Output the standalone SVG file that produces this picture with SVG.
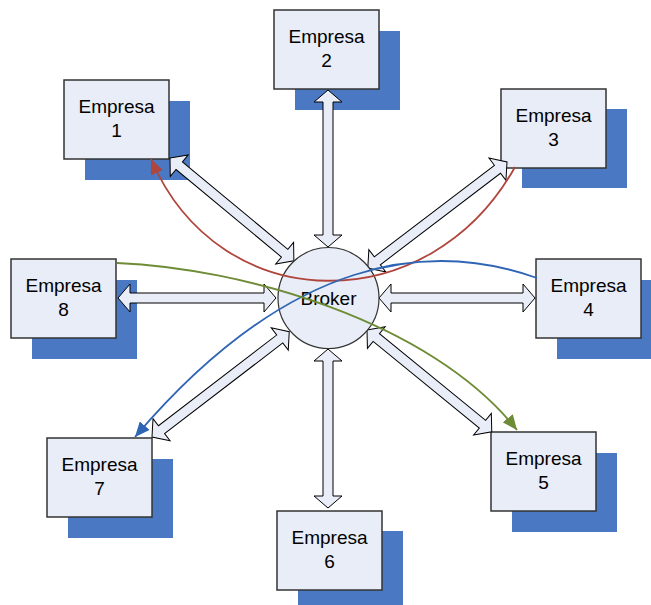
<svg xmlns="http://www.w3.org/2000/svg" width="651" height="605" viewBox="0 0 651 605">
  <defs>
    <style>
      .shadow { fill: #4A78C2; }
      .box { fill: #E8EDF7; stroke: #333333; stroke-width: 1.5; }
      .label { font-family: "Liberation Sans", Arial, sans-serif; font-size: 19px; fill: #000000; text-anchor: middle; }
      .link { fill: #E8EDF7; stroke: #000000; stroke-width: 1; stroke-linejoin: miter; }
      .flow { fill: none; stroke-width: 1.8; }
    </style>
    <!-- double-headed block arrow, unit length handled by per-connector geometry -->
    <marker id="headRed" markerUnits="userSpaceOnUse" markerWidth="16" markerHeight="13" refX="15" refY="6.5" orient="auto">
      <path d="M0,0 L15,6.5 L0,13 z" fill="#B0453C"/>
    </marker>
    <marker id="headBlue" markerUnits="userSpaceOnUse" markerWidth="16" markerHeight="13" refX="15" refY="6.5" orient="auto">
      <path d="M0,0 L15,6.5 L0,13 z" fill="#2F65B5"/>
    </marker>
    <marker id="headGreen" markerUnits="userSpaceOnUse" markerWidth="16" markerHeight="13" refX="15" refY="6.5" orient="auto">
      <path d="M0,0 L15,6.5 L0,13 z" fill="#6E8B35"/>
    </marker>
  </defs>

  <rect width="651" height="605" fill="#FFFFFF"/>

  <g id="empresa1">
    <rect class="shadow" x="85" y="101" width="105" height="79"/>
    <rect class="box" x="64" y="80" width="105" height="79"/>
    <text class="label" x="116.5" y="113">Empresa</text>
    <text class="label" x="116.5" y="137">1</text>
  </g>
  <g id="empresa2">
    <rect class="shadow" x="295" y="31" width="105" height="79"/>
    <rect class="box" x="274" y="10" width="105" height="79"/>
    <text class="label" x="326.5" y="43">Empresa</text>
    <text class="label" x="326.5" y="67">2</text>
  </g>
  <g id="empresa3">
    <rect class="shadow" x="522" y="109" width="105" height="79"/>
    <rect class="box" x="501" y="89" width="105" height="79"/>
    <text class="label" x="553.5" y="122">Empresa</text>
    <text class="label" x="553.5" y="146">3</text>
  </g>
  <g id="empresa4">
    <rect class="shadow" x="557" y="280" width="105" height="79"/>
    <rect class="box" x="536" y="259" width="105" height="79"/>
    <text class="label" x="588.5" y="292">Empresa</text>
    <text class="label" x="588.5" y="316">4</text>
  </g>
  <g id="empresa5">
    <rect class="shadow" x="512" y="453" width="105" height="79"/>
    <rect class="box" x="491" y="432" width="105" height="79"/>
    <text class="label" x="543.5" y="465">Empresa</text>
    <text class="label" x="543.5" y="489">5</text>
  </g>
  <g id="empresa6">
    <rect class="shadow" x="298" y="531" width="105" height="79"/>
    <rect class="box" x="277" y="511" width="105" height="79"/>
    <text class="label" x="329.5" y="544">Empresa</text>
    <text class="label" x="329.5" y="568">6</text>
  </g>
  <g id="empresa7">
    <rect class="shadow" x="68" y="459" width="105" height="79"/>
    <rect class="box" x="47" y="438" width="105" height="79"/>
    <text class="label" x="99.5" y="471">Empresa</text>
    <text class="label" x="99.5" y="495">7</text>
  </g>
  <g id="empresa8">
    <rect class="shadow" x="32" y="280" width="105" height="79"/>
    <rect class="box" x="11" y="259" width="105" height="79"/>
    <text class="label" x="63.5" y="292">Empresa</text>
    <text class="label" x="63.5" y="316">8</text>
  </g>

  <g id="connectors">
    <!-- block arrows: local frame along +x, length L, shaft half-width 5, head 12 long x 14 half-width -->
    <!-- Empresa 2 <-> Broker (L=157) -->
    <polygon class="link" transform="translate(328,90) rotate(90)" points="0,0 12,-14 12,-5 145,-5 145,-14 157,0 145,14 145,5 12,5 12,14"/>
    <!-- Broker <-> Empresa 6 (L=159) -->
    <polygon class="link" transform="translate(328,349) rotate(90)" points="0,0 12,-14 12,-5 147,-5 147,-14 159,0 147,14 147,5 12,5 12,14"/>
    <!-- Empresa 8 <-> Broker (L=158) -->
    <polygon class="link" transform="translate(118,298)" points="0,0 12,-14 12,-5 146,-5 146,-14 158,0 146,14 146,5 12,5 12,14"/>
    <!-- Broker <-> Empresa 4 (L=156) -->
    <polygon class="link" transform="translate(379,298)" points="0,0 12,-14 12,-5 144,-5 144,-14 156,0 144,14 144,5 12,5 12,14"/>
    <!-- Empresa 1 <-> Broker: (170,158) to (294,261), L=161 -->
    <polygon class="link" transform="translate(170,158) rotate(39.7)" points="0,0 12,-14 12,-5 149,-5 149,-14 161,0 149,14 149,5 12,5 12,14"/>
    <!-- Empresa 3 <-> Broker: (507,162) to (368,268), L=175 -->
    <polygon class="link" transform="translate(507,162) rotate(142.7)" points="0,0 12,-14 12,-5 163,-5 163,-14 175,0 163,14 163,5 12,5 12,14"/>
    <!-- Empresa 7 <-> Broker: (152,437) to (289,332), L=173 -->
    <polygon class="link" transform="translate(152,437) rotate(-37.5)" points="0,0 12,-14 12,-5 161,-5 161,-14 173,0 161,14 161,5 12,5 12,14"/>
    <!-- Broker <-> Empresa 5: (367,330) to (492,432), L=161 -->
    <polygon class="link" transform="translate(367,330) rotate(39.2)" points="0,0 12,-14 12,-5 149,-5 149,-14 161,0 149,14 149,5 12,5 12,14"/>
  </g>

  <g id="broker">
    <circle cx="328.5" cy="298" r="50.5" fill="#E8EDF7" stroke="#333333" stroke-width="1.2"/>
    <text class="label" x="328.5" y="305">Broker</text>
  </g>

  <g id="flows">
    <path class="flow" stroke="#B0453C" d="M515,167 C430,320 220,320 151,159" marker-end="url(#headRed)"/>
    <path class="flow" stroke="#2F65B5" d="M537,278 C430,240 290,255 135,437" marker-end="url(#headBlue)"/>
    <path class="flow" stroke="#6E8B35" d="M117,263 C240,268 430,320 517,430" marker-end="url(#headGreen)"/>
  </g>
</svg>
